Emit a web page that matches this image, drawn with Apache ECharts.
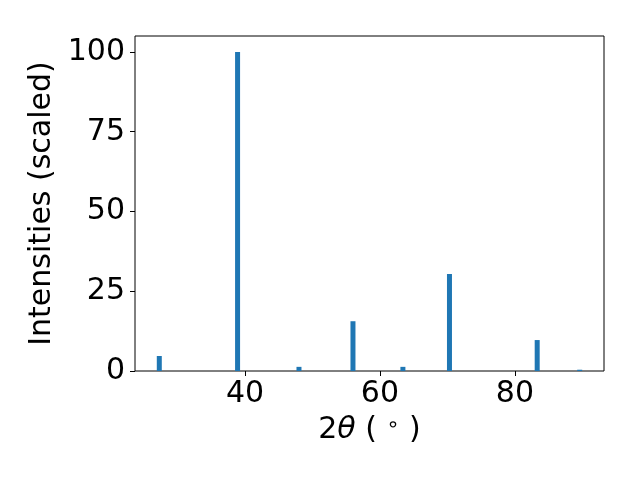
<!DOCTYPE html>
<html>
<head>
<meta charset="utf-8">
<script src="https://cdn.jsdelivr.net/npm/echarts@6/dist/echarts.min.js"></script>
<style>
  html, body { margin: 0; padding: 0; background: #fff; }
  #chart { width: 640px; height: 480px; }
</style>
</head>
<body>
<div id="chart"></div>
<script>
// peak positions (2theta, deg) and scaled intensities
const twoTheta = [27.3, 38.9, 48.0, 56.0, 63.4, 70.3, 83.3, 89.6];
const intensity = [4.7, 100, 1.3, 15.6, 1.3, 30.4, 9.7, 0.4];
const xTicks = [40, 60, 80];
const yTicks = [0, 25, 50, 75, 100];

const chart = echarts.init(document.getElementById("chart"));
const font = "DejaVu Sans";
const fs = 30;

chart.setOption({
  animation: false,
  grid: {
    left: 135, right: 36, top: 36, bottom: 109,
    show: true, borderColor: "#000", borderWidth: 1
  },
  xAxis: {
    type: "value",
    min: 23.7,
    max: 93.2,
    splitLine: { show: false },
    axisLine: { show: false },
    axisTick: { show: true, customValues: xTicks, length: 5, lineStyle: { color: "#000" } },
    axisLabel: {
      customValues: xTicks, color: "#000", fontSize: fs, fontFamily: font, margin: 8
    },
    name: "{n|2}{t|θ}{n| ( }{d|∘}{n| )}",
    nameLocation: "middle",
    nameGap: 44,
    nameTextStyle: {
      rich: {
        n: { fontSize: fs, fontFamily: font, color: "#000" },
        t: { fontSize: fs, fontFamily: font, fontStyle: "italic", color: "#000" },
        d: { fontSize: 21, fontFamily: font, color: "#000", verticalAlign: "top", padding: [0, 0, 6, 0] }
      }
    }
  },
  yAxis: {
    type: "value",
    min: 0,
    max: 105,
    splitLine: { show: false },
    axisLine: { show: false },
    axisTick: { show: true, customValues: yTicks, length: 5, lineStyle: { color: "#000" } },
    axisLabel: {
      customValues: yTicks, color: "#000", fontSize: fs, fontFamily: font, margin: 10
    },
    name: "Intensities (scaled)",
    nameLocation: "middle",
    nameGap: 75,
    nameTextStyle: { fontSize: fs, fontFamily: font, color: "#000" }
  },
  series: [{
    type: "bar",
    data: twoTheta.map((x, i) => [x, intensity[i]]),
    barWidth: 5,
    itemStyle: { color: "#1f77b4" }
  }]
});
</script>
</body>
</html>
